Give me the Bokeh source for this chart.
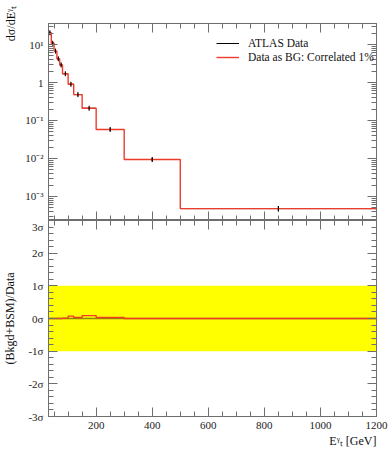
import numpy as np
from bokeh.plotting import figure
from bokeh.models import (FixedTicker, LinearAxis, LogAxis, Range1d, Legend,
                          LegendItem, CustomJSTickFormatter, Title)
from bokeh.layouts import column
from bokeh.embed import file_html
from bokeh.resources import INLINE

# ---------------- data ----------------
bin_edges = [30, 40, 50, 60, 70, 80, 100, 120, 150, 200, 300, 500, 1200]
atlas_xsec = [20.3, 10.8, 6.7, 4.2, 2.9, 1.7, 0.90, 0.48, 0.21, 0.058, 0.0094, 0.00048]
atlas_relerr = [0.02, 0.02, 0.02, 0.02, 0.03, 0.03, 0.03, 0.04, 0.05, 0.07, 0.10, 0.17]
bg_xsec = [20.3, 10.8, 6.7, 4.2, 2.9, 1.7, 0.90, 0.48, 0.21, 0.058, 0.0094, 0.00048]
pull_sigma = [0.0, 0.0, 0.0, 0.0, 0.0, 0.01, 0.07, 0.03, 0.09, 0.03, 0.0, 0.0]
x_major_ticks = [200, 400, 600, 800, 1000, 1200]
y_decades = [1e-3, 1e-2, 1e-1, 1, 10]
sigma_ticks = [-3, -2, -1, 0, 1, 2, 3]
band_sigma = 1.0
legend_labels = ["ATLAS Data", "Data as BG: Correlated 1%"]
y_label_top = "d\u03c3/dE\u1d5e\u209c"
y_label_bottom = "(Bkgd+BSM)/Data"
x_label = "E\u1d5e\u209c [GeV]"

# ---------------- styling ----------------
FONT = "Liberation Serif"
AXC = "#6e6e6e"
RED = "#ee3b2a"
W = 389
LEFT, RIGHT = 48, 13
LOG_LO, LOG_HI = -3.632, 1.553

edges = np.array(bin_edges, dtype=float)
centers = 0.5 * (edges[:-1] + edges[1:])
xs = np.array(atlas_xsec)
err = np.array(atlas_relerr)

xr = Range1d(bin_edges[0], bin_edges[-1])
x_minor = list(range(50, 1201, 50))
y_minor = [m * 10.0 ** d for d in range(-4, 2) for m in range(2, 10)]
sig_minor = [round(v, 1) for v in np.arange(-3, 3.01, 0.2)]

log_fmt = CustomJSTickFormatter(code="""
const e = Math.round(Math.log10(tick));
if (e === 0) { return "1"; }
const sup = {"-": "\u207b", "0": "\u2070", "1": "\u00b9", "2": "\u00b2", "3": "\u00b3", "4": "\u2074"};
return "10" + String(e).split("").map(c => sup[c]).join("");
""")
sig_fmt = CustomJSTickFormatter(code='return Math.round(tick) + "\u03c3";')


def style_axis(ax, labels=True):
    ax.axis_line_color = AXC
    ax.major_tick_line_color = AXC
    ax.minor_tick_line_color = AXC
    ax.major_tick_in = 9
    ax.major_tick_out = 0
    ax.minor_tick_in = 5
    ax.minor_tick_out = 0
    ax.major_label_text_font = FONT
    ax.major_label_text_font_size = "11px"
    ax.major_label_text_color = "#222222"
    ax.major_label_standoff = 5
    ax.axis_label_text_font = FONT
    ax.axis_label_text_font_size = "12px"
    ax.axis_label_text_font_style = "normal"
    ax.axis_label_text_color = "#111111"
    if not labels:
        ax.formatter = CustomJSTickFormatter(code='return "";')
        ax.major_label_text_font_size = "1px"
        ax.major_label_standoff = 0


# ---------------- top panel ----------------
p1 = figure(width=W, height=220, x_range=xr,
            y_range=Range1d(10 ** LOG_LO, 10 ** LOG_HI), y_axis_type="log",
            output_backend="svg", toolbar_location=None,
            min_border_left=LEFT, min_border_right=RIGHT, min_border_top=23, min_border_bottom=0)
p1.xgrid.visible = False
p1.ygrid.visible = False
p1.outline_line_color = AXC

xt = FixedTicker(ticks=x_major_ticks, minor_ticks=x_minor)
yt = FixedTicker(ticks=y_decades, minor_ticks=y_minor)
p1.xaxis.ticker = xt
p1.yaxis.ticker = yt
p1.yaxis.formatter = log_fmt
for ax in p1.xaxis:
    style_axis(ax, labels=False)
for ax in p1.yaxis:
    style_axis(ax, labels=True)
    ax.axis_label = y_label_top
    ax.axis_label_align = "end"
    ax.axis_label_standoff = 4
ax_top = LinearAxis(ticker=xt)
style_axis(ax_top, labels=False)
p1.add_layout(ax_top, "above")
ax_r = LogAxis(ticker=yt)
style_axis(ax_r, labels=False)
p1.add_layout(ax_r, "right")

r_data = p1.segment(x0=edges[:-1], x1=edges[1:], y0=xs, y1=xs, line_color="black", line_width=1)
r_bg = p1.step(x=list(edges), y=list(bg_xsec) + [bg_xsec[-1]], mode="after",
               line_color=RED, line_width=1.4)
r_red_pts = p1.scatter(x=centers, y=bg_xsec, marker="dash", angle=np.pi / 2, size=4,
                       line_color=RED, line_width=1.0)
r_err = p1.segment(x0=centers, x1=centers, y0=xs * (1 - err), y1=xs * (1 + err),
                   line_color="black", line_width=1.0)
r_blk_pts = p1.scatter(x=centers, y=xs, marker="dash", angle=np.pi / 2, size=5,
                       line_color="black", line_width=1.0)

legend = Legend(items=[LegendItem(label=legend_labels[0], renderers=[r_data, r_blk_pts]),
                       LegendItem(label=legend_labels[1], renderers=[r_bg, r_red_pts])],
                location=(168, 156), padding=0, margin=0, spacing=0,
                glyph_width=23, glyph_height=14, label_height=14, label_standoff=9,
                border_line_color=None, background_fill_alpha=0,
                label_text_font=FONT, label_text_font_size="11.5px", label_text_color="#111111")
p1.add_layout(legend, "center")

# ---------------- bottom panel ----------------
p2 = figure(width=W, height=230, x_range=xr, y_range=Range1d(-3, 3),
            output_backend="svg", toolbar_location=None,
            min_border_left=LEFT, min_border_right=RIGHT, min_border_top=0, min_border_bottom=34)
p2.xgrid.visible = False
p2.ygrid.visible = False
p2.outline_line_color = AXC

st = FixedTicker(ticks=sigma_ticks, minor_ticks=sig_minor)
p2.xaxis.ticker = xt
p2.yaxis.ticker = st
p2.yaxis.formatter = sig_fmt
for ax in p2.xaxis:
    style_axis(ax, labels=True)
for ax in p2.yaxis:
    style_axis(ax, labels=True)
    ax.axis_label = y_label_bottom
    ax.axis_label_standoff = 8
ax_top2 = LinearAxis(ticker=xt)
style_axis(ax_top2, labels=False)
p2.add_layout(ax_top2, "above")
ax_r2 = LinearAxis(ticker=st)
style_axis(ax_r2, labels=False)
p2.add_layout(ax_r2, "right")

p2.add_layout(Title(text=x_label, align="right", standoff=0, offset=0,
                    text_font=FONT, text_font_size="12px", text_font_style="normal",
                    text_color="#111111"), "below")

p2.quad(left=bin_edges[0], right=bin_edges[-1], bottom=-band_sigma, top=band_sigma,
        fill_color="#ffff00", line_color=None)
p2.line(x=[bin_edges[0], bin_edges[-1]], y=[0, 0], line_color="black", line_alpha=0.45, line_width=1.4)
p2.step(x=list(edges), y=pull_sigma + [pull_sigma[-1]], mode="after", line_color=RED, line_width=1.3)

layout = column(p1, p2, spacing=0)
open("out.html", "w").write(file_html(layout, INLINE))
